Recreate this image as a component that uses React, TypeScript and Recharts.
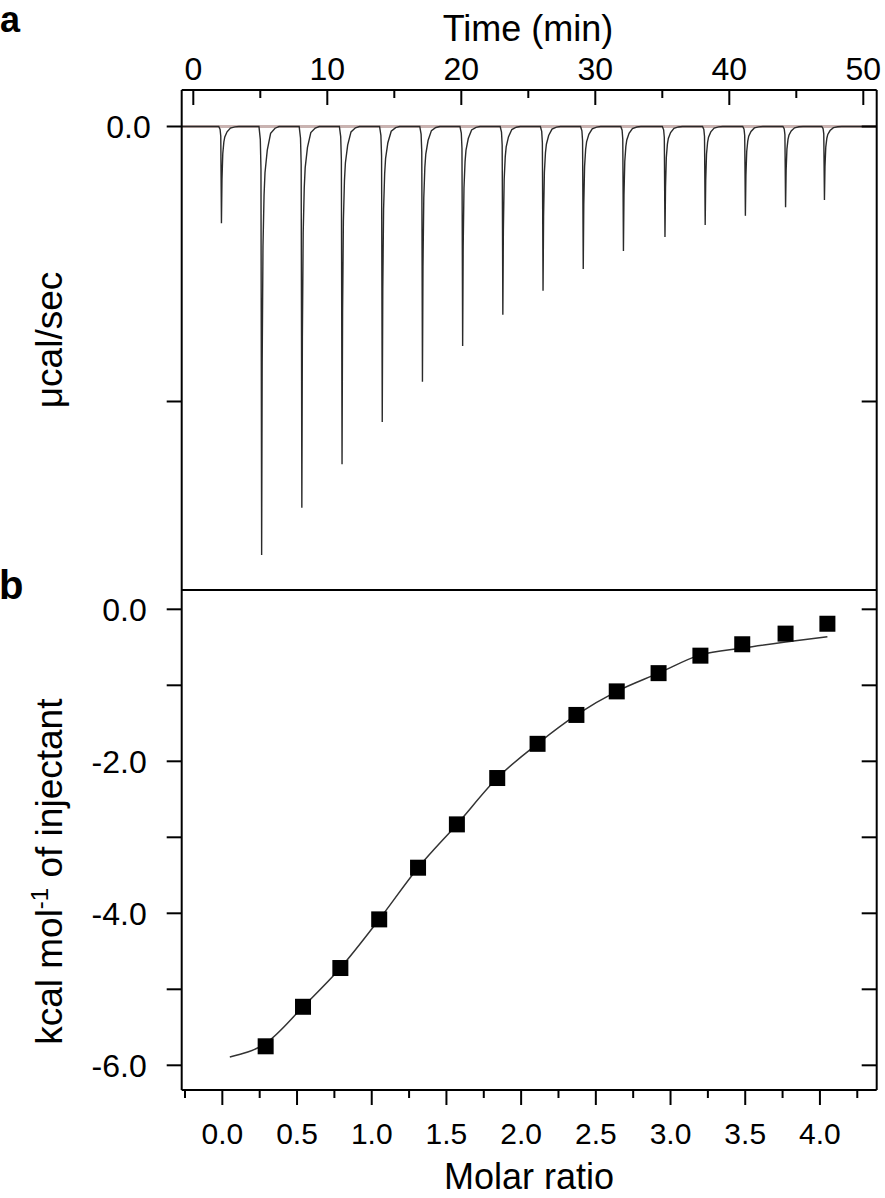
import React from "react";
import {
  LineChart,
  ComposedChart,
  Line,
  Scatter,
  XAxis,
  YAxis,
  ReferenceLine,
} from "recharts";

// panel a: injection times (min) and peak depths (ucal/sec, arbitrary scale)
const injectionTimes = [2.1, 5.1, 8.1, 11.1, 14.1, 17.1, 20.1, 23.1, 26.1, 29.1, 32.1, 35.2, 38.2, 41.2, 44.2, 47.1];
const peakDepths = [-0.352, -1.558, -1.386, -1.228, -1.075, -0.928, -0.798, -0.685, -0.597, -0.518, -0.453, -0.402, -0.358, -0.325, -0.294, -0.267];
// shape of one injection peak (min offset, fraction of depth)
const peakOffsets = [-0.2, -0.1, -0.05, 0, 0.04, 0.1, 0.18, 0.25, 0.42, 0.67, 1.0, 1.3];
const peakShape = [0, 0.03, 0.1, 1, 0.55, 0.28, 0.16, 0.108, 0.055, 0.016, 0.004, 0];
const timeTicks = [0, 5, 10, 15, 20, 25, 30, 35, 40, 45, 50];
const rateTicks = [0, -1];

// panel b: integrated heats
const molarRatio = [0.29, 0.54, 0.79, 1.05, 1.31, 1.57, 1.84, 2.11, 2.37, 2.64, 2.92, 3.2, 3.48, 3.77, 4.05];
const heat = [-5.75, -5.23, -4.72, -4.08, -3.4, -2.83, -2.22, -1.77, -1.39, -1.08, -0.84, -0.61, -0.46, -0.32, -0.19];
const fitRatio = [0.05, 0.29, 0.54, 0.79, 1.05, 1.31, 1.57, 1.84, 2.11, 2.37, 2.64, 2.92, 3.2, 3.48, 3.77, 4.05];
const fitHeat = [-5.89, -5.71, -5.23, -4.72, -4.08, -3.4, -2.83, -2.22, -1.77, -1.39, -1.08, -0.84, -0.6, -0.51, -0.43, -0.36];
const ratioTicks = [-0.25, 0, 0.25, 0.5, 0.75, 1, 1.25, 1.5, 1.75, 2, 2.25, 2.5, 2.75, 3, 3.25, 3.5, 3.75, 4, 4.25];
const heatTicks = [0, -1, -2, -3, -4, -5, -6];

const thermogram: { t: number; v: number }[] = [{ t: -0.866, v: 0 }];
injectionTimes.forEach((t0, i) => {
  peakOffsets.forEach((dt, j) => thermogram.push({ t: t0 + dt, v: peakDepths[i] * peakShape[j] }));
});
thermogram.push({ t: 51, v: 0 });

const points = molarRatio.map((x, i) => ({ x, y: heat[i] }));
const fit = fitRatio.map((x, i) => ({ x, y: fitHeat[i] }));

const FONT = "'Liberation Sans', Arial, Helvetica, sans-serif";
const axisLine = { stroke: "#000", strokeWidth: 2 };

const isHalf = (v: number) => Math.abs(v * 2 - Math.round(v * 2)) < 1e-6;

const TimeTick = ({ x, y, payload }: any) => {
  const major = payload.value % 10 === 0;
  return (
    <g>
      <line x1={x} x2={x} y1={y} y2={y + (major ? 15 : 8)} stroke="#000" strokeWidth={2} />
      {major && (
        <text x={x} y={y - 10.5} textAnchor="middle" fontSize={32} fill="#000" fontFamily={FONT}>
          {payload.value}
        </text>
      )}
    </g>
  );
};

const RateTick = ({ x, y, payload }: any) => (
  <g>
    <line x1={x - 15} x2={x} y1={y} y2={y} stroke="#000" strokeWidth={2} />
    {payload.value === 0 && (
      <text x={x - 31} y={y + 11.5} textAnchor="end" fontSize={32} fill="#000" fontFamily={FONT}>
        0.0
      </text>
    )}
  </g>
);

const RightTick = ({ x, y }: any) => <line x1={x - 15} x2={x} y1={y} y2={y} stroke="#000" strokeWidth={2} />;

const RatioTick = ({ x, y, payload }: any) => {
  const v = payload.value;
  const major = isHalf(v);
  return (
    <g>
      <line x1={x} x2={x} y1={y} y2={y + (major ? 15 : 8)} stroke="#000" strokeWidth={2} />
      {major && v >= 0 && (
        <text x={x} y={y + 53.7} textAnchor="middle" fontSize={30} fill="#000" fontFamily={FONT}>
          {v.toFixed(1)}
        </text>
      )}
    </g>
  );
};

const RatioTopTick = ({ x, y, payload }: any) => (
  <line x1={x} x2={x} y1={y} y2={y + (isHalf(payload.value) ? 15 : 8)} stroke="#000" strokeWidth={2} />
);

const HeatTick = ({ x, y, payload }: any) => {
  const v = payload.value;
  return (
    <g>
      <line x1={x - 15} x2={x} y1={y} y2={y} stroke="#000" strokeWidth={2} />
      {v % 2 === 0 && (
        <text x={x - 35} y={y + 11.5} textAnchor="end" fontSize={32} fill="#000" fontFamily={FONT}>
          {v.toFixed(1)}
        </text>
      )}
    </g>
  );
};

const Square = ({ cx, cy }: any) => <rect x={cx - 8} y={cy - 8} width={16} height={16} fill="#000" />;

const TopTitles = () => (
  <g fontFamily={FONT} fill="#000">
    <text x={0} y={32} fontSize={36} fontWeight="bold">a</text>
    <text x={528} y={40.5} fontSize={36} textAnchor="middle">Time (min)</text>
  </g>
);

const RateTitle = () => (
  <text x={62} y={340} transform="rotate(-90, 62, 340)" textAnchor="middle" fontSize={37} fill="#000" fontFamily={FONT}>
    μcal/sec
  </text>
);

const HeatTitle = () => (
  <g fontFamily={FONT} fill="#000">
    <text x={-1} y={39} fontSize={40} fontWeight="bold">b</text>
    <text x={62} y={311.7} transform="rotate(-90, 62, 311.7)" textAnchor="middle" fontSize={37}>
      kcal mol
      <tspan dy={-14} fontSize={24}>-1</tspan>
      <tspan dy={14} fontSize={37}> of injectant</tspan>
    </text>
  </g>
);

const RatioTitle = () => (
  <text x={529} y={629} textAnchor="middle" fontSize={36} fill="#000" fontFamily={FONT}>
    Molar ratio
  </text>
);

export default function App() {
  return (
    <div style={{ position: "absolute", left: 0, top: 0, width: 885, height: 1198, background: "#fff" }}>
      <div style={{ position: "absolute", left: 0, top: 0 }}>
        <LineChart width={885} height={600} data={thermogram} margin={{ top: 30, right: 7.3, bottom: 9, left: 81.7 }}>
          <XAxis
            xAxisId="time"
            dataKey="t"
            type="number"
            orientation="top"
            domain={[-0.866, 51]}
            allowDataOverflow
            ticks={timeTicks}
            interval={0}
            height={60}
            tickSize={0}
            tickMargin={0}
            tickLine={false}
            axisLine={axisLine}
            tick={<TimeTick />}
            label={<TopTitles />}
          />
          <XAxis
            xAxisId="frame"
            type="number"
            orientation="bottom"
            domain={[-0.866, 51]}
            allowDataOverflow
            height={1}
            tick={false}
            tickLine={false}
            axisLine={axisLine}
          />
          <YAxis
            yAxisId="rate"
            type="number"
            domain={[-1.6855, 0.1327]}
            allowDataOverflow
            ticks={rateTicks}
            interval={0}
            width={100}
            tickSize={0}
            tickMargin={0}
            tickLine={false}
            axisLine={axisLine}
            tick={<RateTick />}
            label={<RateTitle />}
          />
          <YAxis
            yAxisId="frame"
            type="number"
            orientation="right"
            domain={[-1.6855, 0.1327]}
            allowDataOverflow
            ticks={rateTicks}
            interval={0}
            width={1}
            tickSize={0}
            tickMargin={0}
            tickLine={false}
            axisLine={axisLine}
            tick={<RightTick />}
          />
          <ReferenceLine xAxisId="time" yAxisId="rate" y={0} stroke="#c9b3b1" strokeWidth={3} />
          <Line
            xAxisId="time"
            yAxisId="rate"
            type="linear"
            dataKey="v"
            stroke="#2a2a2a"
            strokeWidth={1.4}
            dot={false}
            activeDot={false}
            isAnimationActive={false}
          />
        </LineChart>
      </div>
      <div style={{ position: "absolute", left: 0, top: 560 }}>
        <ComposedChart width={885} height={638} margin={{ top: 29, right: 7.3, bottom: 8, left: 81.7 }}>
          <XAxis
            xAxisId="ratio"
            dataKey="x"
            type="number"
            orientation="bottom"
            domain={[-0.272, 4.38]}
            allowDataOverflow
            ticks={ratioTicks}
            interval={0}
            height={100}
            tickSize={0}
            tickMargin={0}
            tickLine={false}
            axisLine={axisLine}
            tick={<RatioTick />}
            label={<RatioTitle />}
          />
          <XAxis
            xAxisId="frame"
            type="number"
            orientation="top"
            domain={[-0.272, 4.38]}
            allowDataOverflow
            ticks={ratioTicks}
            interval={0}
            height={1}
            tickSize={0}
            tickMargin={0}
            tickLine={false}
            axisLine={axisLine}
            tick={<RatioTopTick />}
          />
          <YAxis
            yAxisId="heat"
            dataKey="y"
            type="number"
            domain={[-6.325, 0.254]}
            allowDataOverflow
            ticks={heatTicks}
            interval={0}
            width={100}
            tickSize={0}
            tickMargin={0}
            tickLine={false}
            axisLine={axisLine}
            tick={<HeatTick />}
            label={<HeatTitle />}
          />
          <YAxis
            yAxisId="frame"
            type="number"
            orientation="right"
            domain={[-6.325, 0.254]}
            allowDataOverflow
            ticks={heatTicks}
            interval={0}
            width={1}
            tickSize={0}
            tickMargin={0}
            tickLine={false}
            axisLine={axisLine}
            tick={<RightTick />}
          />
          <Line
            xAxisId="ratio"
            yAxisId="heat"
            data={fit}
            type="monotone"
            dataKey="y"
            stroke="#333"
            strokeWidth={1.5}
            dot={false}
            activeDot={false}
            isAnimationActive={false}
          />
          <Scatter
            xAxisId="ratio"
            yAxisId="heat"
            data={points}
            dataKey="y"
            shape={<Square />}
            isAnimationActive={false}
          />
        </ComposedChart>
      </div>
    </div>
  );
}
